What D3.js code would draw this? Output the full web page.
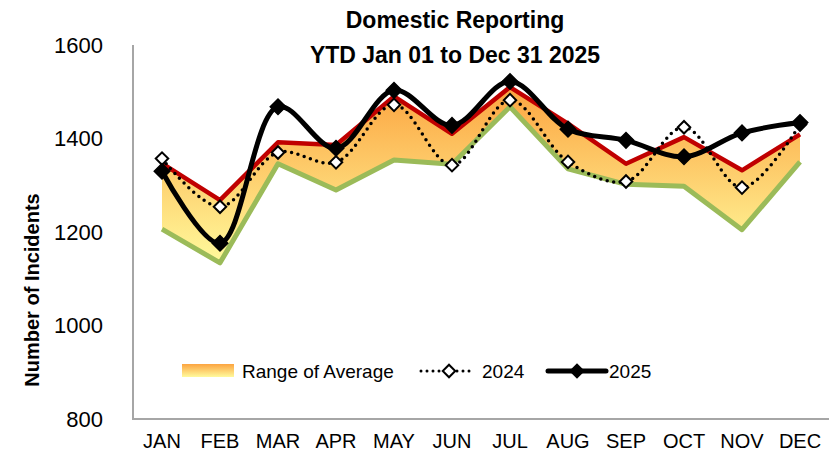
<!DOCTYPE html>
<html>
<head>
<meta charset="utf-8">
<script src="https://cdn.jsdelivr.net/npm/d3@7"></script>
<style>
  html, body { margin: 0; padding: 0; background: #fff; }
  svg { display: block; font-family: "Liberation Sans", Arial, sans-serif; }
</style>
</head>
<body>
<svg id="chart" width="839" height="471"></svg>
<script>
// data
const months = ['JAN', 'FEB', 'MAR', 'APR', 'MAY', 'JUN', 'JUL', 'AUG', 'SEP', 'OCT', 'NOV', 'DEC'];
const avgHigh = [1347, 1268, 1392, 1386, 1490, 1410, 1510, 1432, 1346, 1403, 1332, 1409];
const avgLow = [1206, 1134, 1346, 1290, 1354, 1345, 1468, 1335, 1302, 1298, 1205, 1350];
const y2024 = [1357, 1254, 1370, 1349, 1472, 1343, 1482, 1350, 1308, 1424, 1295, 1430];
const y2025 = [1330, 1176, 1468, 1379, 1503, 1428, 1522, 1420, 1396, 1361, 1412, 1434];
const yTicks = [800, 1000, 1200, 1400, 1600];

const FONT = '"Liberation Sans", Arial, sans-serif';
const AXIS_GREY = '#a6a6a6';
const RED = '#c00000', GREEN = '#9bbb59';

const svg = d3.select('#chart');

const x = d3.scaleBand().domain(months).range([133, 829]).padding(0);
const y = d3.scaleLinear().domain([800, 1600]).range([419, 45]);
const cx = m => x(m) + x.bandwidth() / 2;

// gradient used by the range area and its legend swatch
const defs = svg.append('defs');
const grad = defs.append('linearGradient')
  .attr('id', 'rangeGrad')
  .attr('x1', 0).attr('y1', 0).attr('x2', 0).attr('y2', 1);
grad.append('stop').attr('offset', '0%').attr('stop-color', '#fca440');
grad.append('stop').attr('offset', '100%').attr('stop-color', '#fffa9c');

// title
const title = svg.append('text')
  .attr('text-anchor', 'middle')
  .style('font-family', FONT).style('font-weight', '700').style('font-size', '23px')
  .style('fill', '#000');
title.append('tspan').attr('x', 455).attr('y', 28).text('Domestic Reporting');
title.append('tspan').attr('x', 455).attr('y', 63).text('YTD Jan 01 to Dec 31 2025');

// y axis title
svg.append('text')
  .attr('transform', 'translate(39,290) rotate(-90)')
  .attr('text-anchor', 'middle')
  .style('font-family', FONT).style('font-weight', '700').style('font-size', '20px')
  .text('Number of Incidents');

// tick labels
svg.append('g').selectAll('text')
  .data(yTicks).join('text')
  .attr('x', 103).attr('y', d => y(d))
  .attr('text-anchor', 'end').attr('dominant-baseline', 'central')
  .style('font-family', FONT).style('font-size', '22px')
  .text(d => d);

svg.append('g').selectAll('text')
  .data(months).join('text')
  .attr('x', d => cx(d)).attr('y', 448)
  .attr('text-anchor', 'middle')
  .style('font-family', FONT).style('font-size', '20px')
  .text(d => d);

// axis lines
svg.append('line')
  .attr('x1', 133).attr('x2', 133).attr('y1', y(1600)).attr('y2', y(800))
  .style('stroke', AXIS_GREY).style('stroke-width', 2);
svg.append('line')
  .attr('x1', 132).attr('x2', 829).attr('y1', y(800)).attr('y2', y(800))
  .style('stroke', AXIS_GREY).style('stroke-width', 2);

// range of average
const rows = months.map((m, i) => ({ m, hi: avgHigh[i], lo: avgLow[i], a: y2024[i], b: y2025[i] }));

svg.append('path')
  .datum(rows)
  .attr('d', d3.area().x(d => cx(d.m)).y0(d => y(d.lo)).y1(d => y(d.hi)))
  .style('fill', 'url(#rangeGrad)');

svg.append('path')
  .datum(rows)
  .attr('d', d3.line().x(d => cx(d.m)).y(d => y(d.lo)))
  .style('fill', 'none').style('stroke', GREEN).style('stroke-width', 5)
  .style('stroke-linejoin', 'round');

svg.append('path')
  .datum(rows)
  .attr('d', d3.line().x(d => cx(d.m)).y(d => y(d.hi)))
  .style('fill', 'none').style('stroke', RED).style('stroke-width', 4.5)
  .style('stroke-linejoin', 'round');

// 2024 - dotted, smoothed, open diamonds
const smooth = d3.curveCatmullRom.alpha(0.5);
svg.append('path')
  .datum(rows)
  .attr('d', d3.line().curve(smooth).x(d => cx(d.m)).y(d => y(d.a)))
  .style('fill', 'none').style('stroke', '#000').style('stroke-width', 3.5)
  .style('stroke-dasharray', '0 6.6').style('stroke-linecap', 'round');

const diamondA = d3.symbol(d3.symbolSquare, 78)();
const diamondB = d3.symbol(d3.symbolSquare, 120)();

svg.append('g').selectAll('path')
  .data(rows).join('path')
  .attr('d', diamondA)
  .attr('transform', d => `translate(${cx(d.m)},${y(d.a)}) rotate(45)`)
  .style('fill', '#fff').style('stroke', '#000').style('stroke-width', 2);

// 2025 - thick smoothed, filled diamonds
svg.append('path')
  .datum(rows)
  .attr('d', d3.line().curve(smooth).x(d => cx(d.m)).y(d => y(d.b)))
  .style('fill', 'none').style('stroke', '#000').style('stroke-width', 5)
  .style('stroke-linejoin', 'round');

svg.append('g').selectAll('path')
  .data(rows).join('path')
  .attr('d', diamondB)
  .attr('transform', d => `translate(${cx(d.m)},${y(d.b)}) rotate(45)`)
  .style('fill', '#000').style('stroke', '#000').style('stroke-width', 1.5);

// legend
const LY = 371;
const legend = svg.append('g');
legend.append('rect')
  .attr('x', 182).attr('y', LY - 7).attr('width', 52).attr('height', 13)
  .style('fill', 'url(#rangeGrad)');
legend.append('text')
  .attr('x', 242).attr('y', LY).attr('dominant-baseline', 'central')
  .style('font-family', FONT).style('font-size', '19px')
  .text('Range of Average');

legend.append('line')
  .attr('x1', 421).attr('x2', 472).attr('y1', LY).attr('y2', LY)
  .style('stroke', '#000').style('stroke-width', 3)
  .style('stroke-dasharray', '0 6').style('stroke-linecap', 'round');
legend.append('path')
  .attr('d', diamondA)
  .attr('transform', `translate(449,${LY}) rotate(45)`)
  .style('fill', '#fff').style('stroke', '#000').style('stroke-width', 2);
legend.append('text')
  .attr('x', 482).attr('y', LY).attr('dominant-baseline', 'central')
  .style('font-family', FONT).style('font-size', '19px')
  .text('2024');

legend.append('line')
  .attr('x1', 548).attr('x2', 606).attr('y1', LY).attr('y2', LY)
  .style('stroke', '#000').style('stroke-width', 5).style('stroke-linecap', 'round');
legend.append('path')
  .attr('d', diamondB)
  .attr('transform', `translate(577,${LY}) rotate(45)`)
  .style('fill', '#000');
legend.append('text')
  .attr('x', 609).attr('y', LY).attr('dominant-baseline', 'central')
  .style('font-family', FONT).style('font-size', '19px')
  .text('2025');
</script>
</body>
</html>
